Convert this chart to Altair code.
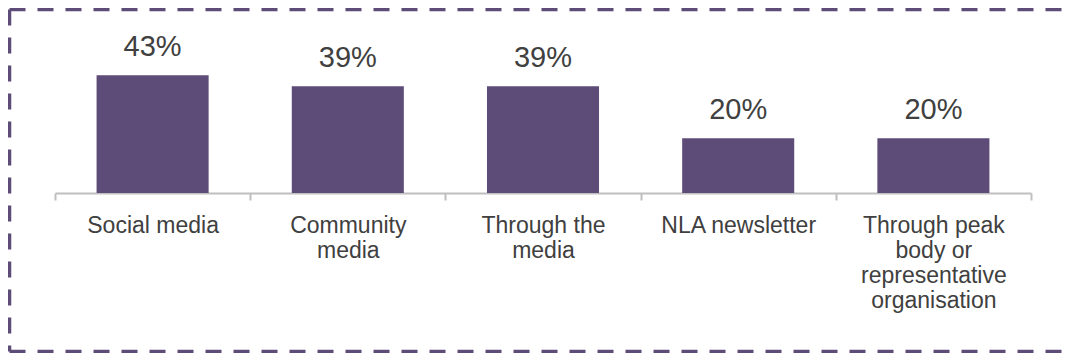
import altair as alt
import pandas as pd

categories = [
    "Social media",
    "Community\nmedia",
    "Through the\nmedia",
    "NLA newsletter",
    "Through peak\nbody or\nrepresentative\norganisation",
]
values = [43, 39, 39, 20, 20]
value_labels = ["43%", "39%", "39%", "20%", "20%"]

PURPLE = "#5D4B78"
TEXT = "#404040"
FONT = "Liberation Sans"

df = pd.DataFrame({"cat": categories, "val": values, "lab": value_labels})

x_enc = alt.X(
    "cat:N",
    sort=None,
    scale=alt.Scale(paddingInner=0, paddingOuter=0),
    axis=alt.Axis(
        title=None,
        labelAngle=0,
        labelExpr="split(datum.label, '\\n')",
        labelFont=FONT,
        labelFontSize=23,
        labelColor=TEXT,
        labelLineHeight=25,
        labelPadding=14,
        labelLimit=400,
        labelOverlap=False,
        labelBaseline="top",
        tickBand="extent",
        tickSize=7,
        tickColor="#BFBFBF",
        tickWidth=2,
        domainColor="#BFBFBF",
        domainWidth=2,
    ),
)
y_enc = alt.Y("val:Q", scale=alt.Scale(domain=[0, 50]), axis=None)

bars = alt.Chart(df).mark_bar(color=PURPLE, width=alt.RelativeBandSize(0.574)).encode(
    x=x_enc, y=y_enc
)
labels = alt.Chart(df).mark_text(
    font=FONT, fontSize=29, color=TEXT, baseline="alphabetic", dy=-19
).encode(x=x_enc, y=y_enc, text="lab:N")

one = pd.DataFrame({"k": [0]})
dash = dict(color=PURPLE, strokeWidth=3.5, strokeDash=[16, 12])
L, T, B, R = -45.5, -46.5, 295.5, 1009
top = alt.Chart(one).mark_rule(**dash).encode(
    x=alt.value(L), x2=alt.value(R), y=alt.value(T)
)
left = alt.Chart(one).mark_rule(**dash).encode(
    x=alt.value(L), y=alt.value(T), y2=alt.value(B)
)
bottom = alt.Chart(one).mark_rule(**dash).encode(
    x=alt.value(L), x2=alt.value(R), y=alt.value(B)
)

chart = (
    alt.layer(bars, labels, top, left, bottom)
    .properties(
        width=976,
        height=137,
        autosize=alt.AutoSizeParams(type="none"),
        padding={"left": 47, "top": 48, "right": 33, "bottom": 160},
        background="white",
    )
    .configure_view(strokeWidth=0)
)

chart.save("out.html", embed_options={"renderer": "svg", "actions": False})
